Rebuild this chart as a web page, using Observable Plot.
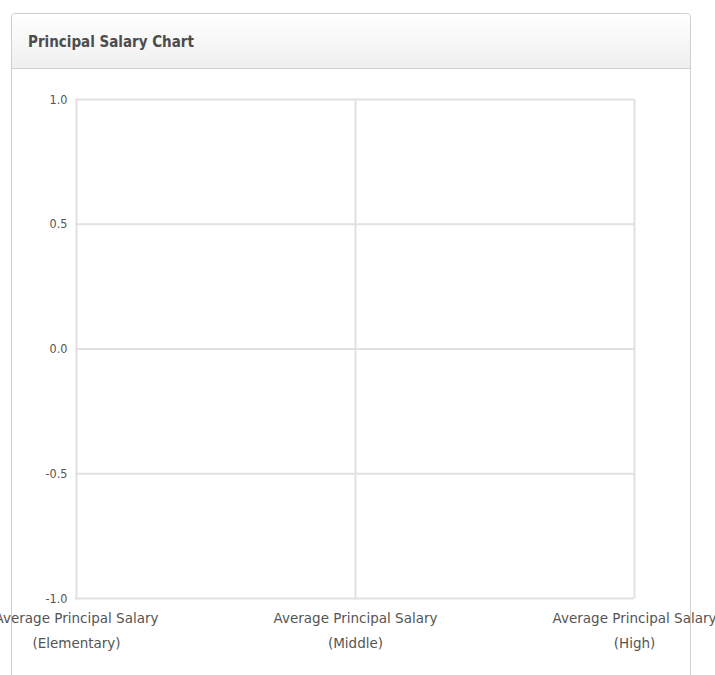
<!DOCTYPE html>
<html>
<head>
<meta charset="utf-8">
<script src="https://cdn.jsdelivr.net/npm/d3@7"></script>
<script src="https://cdn.jsdelivr.net/npm/@observablehq/plot@0.6"></script>
<style>
  html, body { margin: 0; padding: 0; background: #fff; width: 715px; height: 675px; overflow: hidden; }
  #wrap { position: relative; width: 715px; height: 675px; }
  #panel { position: absolute; left: 11px; top: 13px; width: 678px; height: 720px;
    border: 1px solid #cfcfcf; border-radius: 4px; background: #fff; }
  #header { height: 54px; border-bottom: 1px solid #cfcfcf; border-radius: 4px 4px 0 0;
    background: linear-gradient(#ffffff, #efefef); }
  #title { position: absolute; left: 16px; top: 19px; margin: 0;
    font: bold 15px "DejaVu Sans Condensed", "DejaVu Sans", sans-serif; color: #4d4d4d; }
  #chart { position: absolute; left: 0; top: 0; }
  #chart svg { overflow: visible; }
</style>
</head>
<body>
<div id="wrap">
  <div id="panel"><div id="header"></div><h2 id="title">Principal Salary Chart</h2></div>
  <div id="chart"></div>
</div>
<script>
const categories = [
  "Average Principal Salary\n(Elementary)",
  "Average Principal Salary\n(Middle)",
  "Average Principal Salary\n(High)"
];
const salaries = []; // no series values shown in the chart
const yTicks = [-1, -0.5, 0, 0.5, 1];

const gridColor = "#e1e1e1";
const chart = Plot.plot({
  width: 715,
  height: 675,
  marginLeft: 75,
  marginRight: 81,
  marginTop: 99,
  marginBottom: 77,
  style: { fontFamily: "'DejaVu Sans Condensed', 'DejaVu Sans', sans-serif", fontSize: "12px", color: "#555", background: "transparent", overflow: "visible" },
  x: { type: "point", domain: categories, padding: 0 },
  y: { domain: [-1, 1] },
  marks: [
    Plot.gridY(yTicks, { stroke: gridColor, strokeOpacity: 1, strokeWidth: 2 }),
    Plot.gridX(categories, { stroke: gridColor, strokeOpacity: 1, strokeWidth: 2 }),
    Plot.axisY(yTicks, { tickSize: 0, tickPadding: 8, tickFormat: d => d.toFixed(1), label: null, fontSize: 12.5, fill: "#555" }),
    Plot.axisX(categories, { tickSize: 0, tickPadding: 7, label: null, fontSize: 13.5, fontFamily: "'DejaVu Sans', sans-serif", lineHeight: 1.85, fill: "#555" }),
    Plot.dot(salaries, { x: "category", y: "value" })
  ]
});
document.getElementById("chart").appendChild(chart);
</script>
</body>
</html>
